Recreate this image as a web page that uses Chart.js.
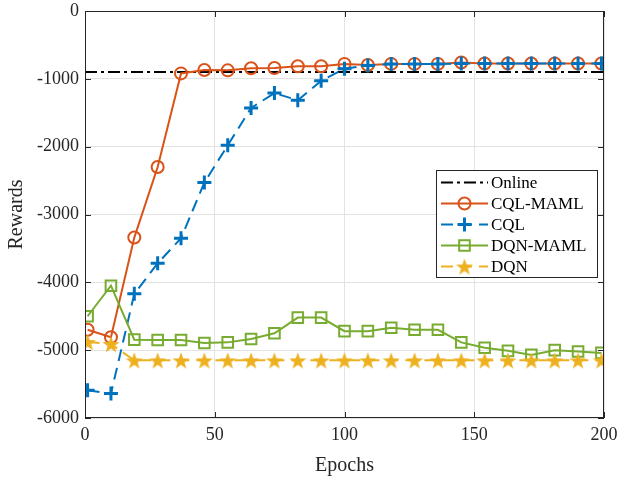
<!DOCTYPE html>
<html>
<head>
<meta charset="utf-8">
<script src="https://cdn.jsdelivr.net/npm/chart.js@4.4.1/dist/chart.umd.min.js"></script>
<style>
  html, body { margin: 0; padding: 0; background: #fff; }
  #wrap { width: 618px; height: 478px; }
</style>
</head>
<body>
<div id="wrap"><canvas id="rewards_chart" width="618" height="478"></canvas></div>
<script>
'use strict';

// epochs where the markers sit
var epochs = [1, 10, 19, 28, 37, 46, 55, 64, 73, 82, 91, 100, 109, 118, 127, 136, 145, 154, 163, 172, 181, 190, 199];

var onlineX = [0, 200];
var onlineY = [-900, -900];

var cqlMaml = [-4700, -4810, -3340, -2300, -920, -870, -875, -845, -840, -815, -815, -780, -795, -780, -780, -780, -760, -775, -775, -775, -775, -775, -775];
var cql = [-5590, -5640, -4170, -3720, -3350, -2530, -1980, -1430, -1210, -1315, -1030, -850, -805, -780, -780, -780, -775, -775, -775, -775, -775, -775, -775];
var dqnMaml = [-4500, -4050, -4845, -4850, -4850, -4895, -4885, -4835, -4750, -4520, -4520, -4720, -4720, -4670, -4700, -4700, -4885, -4965, -5010, -5070, -5000, -5020, -5040];
var dqn = [-4880, -4910, -5150, -5150, -5150, -5150, -5150, -5150, -5150, -5150, -5150, -5150, -5150, -5150, -5150, -5150, -5150, -5150, -5150, -5150, -5150, -5150, -5150];

var xTicks = [0, 50, 100, 150, 200];
var yTicks = [0, -1000, -2000, -3000, -4000, -5000, -6000];

var colors = {
    online: '#000000',
    orange: '#D95319',
    blue: '#0072BD',
    green: '#77AC30',
    yellow: '#EDB120'
};

function toPoints(xs, ys) {
    return xs.map(function (x, i) { return { x: x, y: ys[i] }; });
}

// filled five point star used as marker image
function makeStar(size, color) {
    var c = document.createElement('canvas');
    c.width = size;
    c.height = size;
    var g = c.getContext('2d');
    var cx = size / 2, cy = size / 2 + 1, ro = size / 2, ri = ro * 0.4;
    g.beginPath();
    for (var i = 0; i < 10; i++) {
        var r = (i % 2 === 0) ? ro : ri;
        var a = -Math.PI / 2 + i * Math.PI / 5;
        var px = cx + r * Math.cos(a), py = cy + r * Math.sin(a);
        if (i === 0) g.moveTo(px, py); else g.lineTo(px, py);
    }
    g.closePath();
    g.fillStyle = color;
    g.fill();
    return c;
}
var starImg = makeStar(18, colors.yellow);

var serif = '"Liberation Serif", "Times New Roman", serif';
var axisColor = '#262626';

// box with inward ticks on all four sides, like the matlab axes
var boxPlugin = {
    id: 'boxPlugin',
    afterDatasetsDraw: function (chart) {
        var ctx = chart.ctx, a = chart.chartArea;
        var xs = chart.scales.x, ys = chart.scales.y;
        var len = 6;
        ctx.save();
        ctx.strokeStyle = axisColor;
        ctx.lineWidth = 1;
        ctx.strokeRect(a.left + 0.5, a.top + 0.5, a.right - a.left - 1, a.bottom - a.top - 1);
        ctx.beginPath();
        xTicks.forEach(function (t) {
            var px = Math.round(xs.getPixelForValue(t)) + 0.5;
            ctx.moveTo(px, a.bottom); ctx.lineTo(px, a.bottom - len);
            ctx.moveTo(px, a.top); ctx.lineTo(px, a.top + len);
        });
        yTicks.forEach(function (t) {
            var py = Math.round(ys.getPixelForValue(t)) + 0.5;
            ctx.moveTo(a.left, py); ctx.lineTo(a.left + len, py);
            ctx.moveTo(a.right, py); ctx.lineTo(a.right - len, py);
        });
        ctx.stroke();
        ctx.restore();
    }
};

function drawMarker(ctx, ds, x, y) {
    var r = ds.pointRadius;
    ctx.save();
    ctx.strokeStyle = ds.pointBorderColor;
    ctx.lineWidth = ds.pointBorderWidth;
    ctx.setLineDash([]);
    ctx.beginPath();
    if (ds.pointStyle === 'circle') {
        ctx.arc(x, y, r, 0, Math.PI * 2);
        ctx.stroke();
    } else if (ds.pointStyle === 'cross') {
        ctx.moveTo(x - r, y); ctx.lineTo(x + r, y);
        ctx.moveTo(x, y - r); ctx.lineTo(x, y + r);
        ctx.stroke();
    } else if (ds.pointStyle === 'rect') {
        var s = Math.SQRT1_2 * r;
        ctx.rect(x - s, y - s, 2 * s, 2 * s);
        ctx.stroke();
    } else if (ds.pointStyle instanceof HTMLCanvasElement) {
        var im = ds.pointStyle;
        ctx.drawImage(im, x - im.width / 2, y - im.height / 2);
    }
    ctx.restore();
}

// legend box inside the plot, upper right of the lower half
var legendPlugin = {
    id: 'legendPlugin',
    afterDraw: function (chart) {
        var ctx = chart.ctx;
        var left = 436, top = 170, w = 161, h = 107;
        var rowH = 21;
        ctx.save();
        ctx.fillStyle = '#fff';
        ctx.fillRect(left, top, w, h);
        ctx.strokeStyle = axisColor;
        ctx.lineWidth = 1;
        ctx.strokeRect(left + 0.5, top + 0.5, w, h);
        ctx.font = '17px ' + serif;
        ctx.textBaseline = 'middle';
        chart.data.datasets.forEach(function (ds, i) {
            var y = top + 12.5 + i * rowH;
            var x0 = 441, x1 = 488;
            ctx.save();
            ctx.strokeStyle = ds.borderColor;
            ctx.lineWidth = ds.borderWidth;
            ctx.setLineDash(ds.borderDash || []);
            ctx.beginPath();
            ctx.moveTo(x0, y); ctx.lineTo(x1, y);
            ctx.stroke();
            ctx.restore();
            if (ds.pointRadius > 0) drawMarker(ctx, ds, (x0 + x1) / 2, y);
            ctx.fillStyle = '#000';
            ctx.fillText(ds.label, 491, y + 1);
        });
        ctx.restore();
    }
};

var canvas = document.getElementById('rewards_chart');
var ctx = canvas.getContext('2d');

var rewardsChart = new Chart(ctx, {
    type: 'line',
    data: {
        datasets: [{
            label: 'Online',
            data: toPoints(onlineX, onlineY),
            borderColor: colors.online,
            borderWidth: 2,
            borderDash: [12, 4, 3, 4],
            pointRadius: 0,
            order: 5
        }, {
            label: 'CQL-MAML',
            data: toPoints(epochs, cqlMaml),
            borderColor: colors.orange,
            borderWidth: 2,
            pointStyle: 'circle',
            pointRadius: 6,
            pointBorderWidth: 2,
            pointBorderColor: colors.orange,
            pointBackgroundColor: 'rgba(0,0,0,0)',
            order: 4
        }, {
            label: 'CQL',
            data: toPoints(epochs, cql),
            borderColor: colors.blue,
            borderWidth: 2,
            borderDash: [12, 7],
            pointStyle: 'cross',
            pointRadius: 7,
            pointBorderWidth: 3,
            pointBorderColor: colors.blue,
            order: 3
        }, {
            label: 'DQN-MAML',
            data: toPoints(epochs, dqnMaml),
            borderColor: colors.green,
            borderWidth: 2,
            pointStyle: 'rect',
            pointRadius: 7.5,
            pointBorderWidth: 2,
            pointBorderColor: colors.green,
            pointBackgroundColor: 'rgba(0,0,0,0)',
            order: 2
        }, {
            label: 'DQN',
            data: toPoints(epochs, dqn),
            borderColor: colors.yellow,
            borderWidth: 2,
            borderDash: [12, 7],
            pointStyle: starImg,
            pointRadius: 9,
            pointBorderColor: colors.yellow,
            order: 1
        }]
    },
    options: {
        responsive: false,
        animation: false,
        events: [],
        layout: { padding: { top: 0, right: 0, left: 0, bottom: 0 } },
        plugins: {
            legend: { display: false },
            tooltip: { enabled: false },
            title: { display: false }
        },
        scales: {
            x: {
                type: 'linear',
                min: 0,
                max: 200,
                afterBuildTicks: function (s) { s.ticks = xTicks.map(function (v) { return { value: v }; }); },
                afterFit: function (s) { s.height = 60; s.paddingRight = 14; s.paddingLeft = 0; },
                ticks: {
                    font: { family: serif, size: 18 },
                    color: axisColor,
                    padding: 6,
                    maxRotation: 0,
                    callback: function (v) { return String(v); }
                },
                grid: { color: '#e3e3e3', drawTicks: false },
                border: { display: false },
                title: {
                    display: true,
                    text: 'Epochs',
                    font: { family: serif, size: 20 },
                    color: axisColor,
                    padding: { top: 4, bottom: 0 }
                }
            },
            y: {
                type: 'linear',
                min: -6000,
                max: 0,
                afterBuildTicks: function (s) { s.ticks = yTicks.map(function (v) { return { value: v }; }); },
                afterFit: function (s) { s.width = 85; s.paddingTop = 9; s.paddingBottom = 0; },
                ticks: {
                    font: { family: serif, size: 18 },
                    color: axisColor,
                    padding: 6,
                    callback: function (v) { return String(v); }
                },
                grid: { color: '#e3e3e3', drawTicks: false },
                border: { display: false },
                title: {
                    display: true,
                    text: 'Rewards',
                    font: { family: serif, size: 20 },
                    color: axisColor,
                    padding: { top: 5, bottom: 2 }
                }
            }
        }
    },
    plugins: [boxPlugin, legendPlugin]
});
</script>
</body>
</html>
